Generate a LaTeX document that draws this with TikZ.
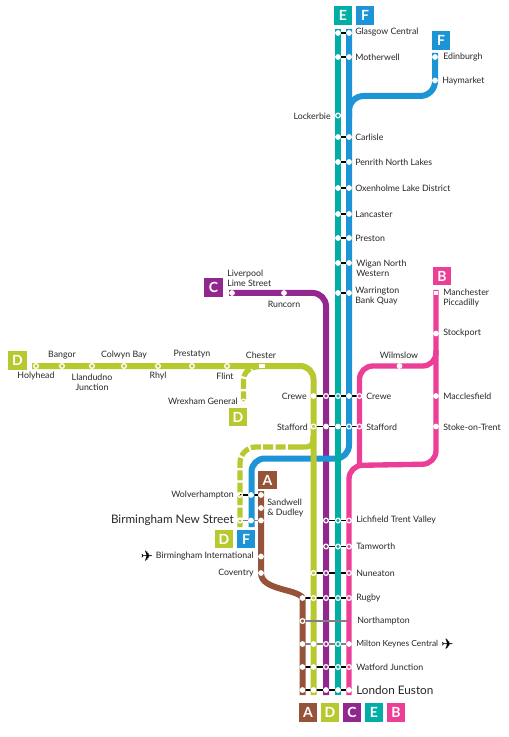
\documentclass[tikz,border=0pt]{standalone}
\usepackage{fontspec}
\setmainfont{Lato}
\newfontfamily\symfont{DejaVu Sans}
\usetikzlibrary{backgrounds}
\definecolor{cE}{HTML}{00AEA6}
\definecolor{cF}{HTML}{1C94D6}
\definecolor{cC}{HTML}{92278F}
\definecolor{cD}{HTML}{B7C92F}
\definecolor{cB}{HTML}{EC3D97}
\definecolor{cA}{HTML}{96533A}
\tikzset{
 x=.75pt,y=-.75pt,
 st/.style={circle,fill=white,inner sep=0,minimum size=4.3pt},
 rg/.style={circle,draw=white,line width=.95pt,fill=none,inner sep=0,minimum size=3.5pt},
 sq/.style={rectangle,fill=white,inner sep=0,minimum width=3.4pt,minimum height=3.2pt},
 route/.style={line width=4.5pt,line join=round},
 thin route/.style={line width=3.9pt,line join=round},
 link/.style={black,line width=1.2pt},
 grey link/.style={black!50,line width=1.2pt},
 badge/.style={rectangle,inner sep=0,minimum width=14pt,minimum height=14pt,text=white,font=\fontsize{10.5}{10.5}\selectfont\bfseries},
 lab/.style={inner sep=0,text=black!85,font=\fontsize{6.6}{7.4}\selectfont,align=left},
 labl/.style={lab,anchor=west},
 labr/.style={lab,anchor=east},
 labc/.style={lab,anchor=center,align=center},
 big/.style={inner sep=0,text=black!85,font=\fontsize{8.8}{10}\selectfont},
}
\begin{document}
\begin{tikzpicture}
\useasboundingbox (0,0) rectangle (509,737);
% end points of the routes
\coordinate (etop) at (338,29); \coordinate (ebot) at (338,695);
\coordinate (ftop) at (349,29);
\coordinate (fend) at (251.5,527);
\coordinate (ftee) at (349,118);
\coordinate (ed0) at (435,53);
\coordinate (bbot) at (349,695);
\coordinate (ctop) at (229,293);
\coordinate (cbot) at (326,695);
\coordinate (dtop) at (32,366);
\coordinate (dbot) at (313.5,695);
\coordinate (abot) at (302.5,695);
\coordinate (atop) at (261,491);
\coordinate (b0) at (436,290);
\coordinate (nh) at (347,621);
% E + F stations
\foreach \n/\y in {gla/33,mot/57,car/137,pen/162,oxe/188,lan/214,pre/238,wig/263,war/293}{
  \node[st] (e\n) at (338,\y) {};
  \node[st] (f\n) at (349,\y) {};
}
\node[rg] (lock) at (338,115.5) {};
% F branch
\node[st] (edi) at (435,57) {};
\node[st] (hay) at (435,80.5) {};
% C
\node[st] (liv) at (232,293) {};
\node[st] (run) at (284,293) {};
% D west
\foreach \n/\x in {hol/36,ban/62,lla/92,col/124,rhy/158,prs/192,fli/227}{
  \node[rg] (\n) at (\x,366) {};
}
\node[sq,minimum width=3.8pt] (che) at (262,366) {};
\node[rg] (wre) at (243.5,401.5) {};
% B north
\node[sq] (man) at (436,293) {};
\node[st] (sto) at (436,333.5) {};
\node[st] (wil) at (399.5,366) {};
\node[st] (mac) at (436,396) {};
\node[st] (sok) at (436,426.5) {};
% Crewe, Stafford
\node[st] (crD) at (313.5,396) {}; \node[rg] (crC) at (326,396) {}; \node[rg] (crE) at (338,396) {}; \node[st] (crF) at (349,396) {}; \node[rg] (crB) at (359.5,396) {};
\node[rg] (sfD) at (313.5,426.5) {}; \node[st] (sfC) at (326,426.5) {}; \node[st] (sfE) at (338,426.5) {}; \node[rg] (sfF) at (349,426.5) {}; \node[rg] (sfB) at (359.5,426.5) {};
% West Midlands
\node[rg] (wolD) at (240,495) {}; \node[st] (wolF) at (251,495) {}; \node[st] (wolA) at (261,495) {};
\node[st] (sand) at (261,508) {};
\node[rg] (bnsD) at (240,520.5) {}; \node[st] (bnsF) at (251,520.5) {}; \node[st] (bnsA) at (261,520.5) {};
\node[st] (bint) at (261,556.5) {};
\node[st] (cov) at (261,573) {};
% southern trunk
\foreach \n/\y in {lic/520.5,tam/546.5}{
  \node[rg] (\n C) at (326,\y) {}; \node[rg] (\n E) at (338,\y) {}; \node[rg] (\n B) at (349,\y) {};
}
\node[rg] (nunD) at (313.5,573) {}; \node[rg] (nunC) at (326,573) {}; \node[rg] (nunB) at (349,573) {};
\node[st] (rugA) at (302.5,598) {}; \node[rg] (rugD) at (313.5,598) {}; \node[rg] (rugC) at (326,598) {}; \node[rg] (rugE) at (338,598) {}; \node[rg] (rugB) at (349,598) {};
\node[rg] (norA) at (302.5,621) {};
\node[st] (milA) at (302.5,644) {}; \node[st] (milD) at (313.5,644) {}; \node[rg] (milC) at (326,644) {}; \node[rg] (milE) at (338,644) {}; \node[st] (milB) at (349,644) {};
\node[st] (watA) at (302.5,667) {}; \node[st] (watD) at (313.5,667) {}; \node[rg] (watC) at (326,667) {}; \node[rg] (watE) at (338,667) {}; \node[rg] (watB) at (349,667) {};
\node[st] (lonA) at (302.5,690) {}; \node[st] (lonD) at (313.5,690) {}; \node[st] (lonC) at (326,690) {}; \node[st] (lonE) at (338,690) {}; \node[st] (lonB) at (349,690) {};
% routes and links beneath the stations
\begin{scope}[on background layer]
\foreach \n in {gla,mot,car,pen,oxe,lan,pre,wig,war}{ \draw[link] (e\n.center) -- (f\n.center); }
\draw[link] (crD.center) -- (crB.center);
\draw[link] (sfD.center) -- (sfB.center);
\draw[link] (wolD.center) -- (wolA.center);
\draw[grey link] (bnsD.center) -- (bnsA.center);
\foreach \n in {lic,tam}{ \draw[link] (\n C.center) -- (\n B.center); }
\draw[link] (nunD.center) -- (nunB.center);
\draw[link] (rugA.center) -- (rugB.center);
\draw[grey link] (milA.center) -- (milB.center);
\draw[link] (watA.center) -- (watB.center);
\draw[link] (lonA.center) -- (lonB.center);
% brown
\draw[route,cA] (atop) -- (cov.center) .. controls (261,582) and (270,586) .. (285,590) .. controls (297,593) and (302.5,596) .. (rugA.center) -- (abot);
% purple
\draw[route,cC,rounded corners=10pt] (ctop) -- (326,293) -- (cbot);
% blue
\draw[route,cF,rounded corners=10pt] (ftop) -- (349,458.5) -- (251.5,458.5) -- (fend);
\draw[route,cF,rounded corners=11pt] (ftee) -- (349,96) -- (435,96) -- (ed0);
% teal
\draw[route,cE] (etop) -- (ebot);
% green
\draw[route,cD,rounded corners=10pt] (dtop) -- (313.5,366) -- (dbot);
\draw[thin route,cD,rounded corners=8pt,dash pattern=on 7.5pt off 1.8pt] (che.center) -- (243.5,369) -- (243.5,404);
\draw[thin route,cD,rounded corners=5pt] (313,436) -- (313,447) -- (298,447);
\draw[thin route,cD,rounded corners=12pt,dash pattern=on 7.5pt off 1.8pt] (298,447) -- (240,447) -- (240,527);
% pink
\draw[route,cB,line width=4pt,rounded corners=10pt] (b0) -- (436,464) -- (349,465.5) -- (bbot);
\draw[route,cB,line width=4pt,rounded corners=10pt] (436,350) -- (436,366) -- (359.5,366) -- (359.5,466);
\end{scope}
\draw[grey link] (norA) -- (nh);
% badges
\node[badge,fill=cE] (bE1) at (343,15.5) {E};
\node[badge,fill=cF] (bF1) at (365,15.5) {F};
\node[badge,fill=cF] (bF2) at (441,40.5) {F};
\node[badge,fill=cC] (bC1) at (213.5,287.5) {C};
\node[badge,fill=cD] (bD1) at (17.5,360.5) {D};
\node[badge,fill=cD] (bD2) at (238,417) {D};
\node[badge,fill=cB] (bB1) at (442,276) {B};
\node[badge,fill=cA] (bA1) at (267.5,480) {A};
\node[badge,fill=cD] (bD3) at (224,539) {D};
\node[badge,fill=cF] (bF3) at (246,539) {F};
\node[badge,fill=cA] (bA2) at (308,712.5) {A};
\node[badge,fill=cD] (bD4) at (330,712.5) {D};
\node[badge,fill=cC] (bC2) at (352,712.5) {C};
\node[badge,fill=cE] (bE2) at (374,712.5) {E};
\node[badge,fill=cB] (bB2) at (396,712.5) {B};
% labels
\node[labl] (t1) at (355,32.5) {Glasgow Central};
\node[labl] (t2) at (355,57) {Motherwell};
\node[labl] (t3) at (443,57) {Edinburgh};
\node[labl] (t4) at (442,81) {Haymarket};
\node[labr] (t5) at (331,116) {Lockerbie};
\node[labl] (t6) at (355,137.5) {Carlisle};
\node[labl] (t7) at (355,162) {Penrith North Lakes};
\node[labl] (t8) at (355,188) {Oxenholme Lake District};
\node[labl] (t9) at (355,214) {Lancaster};
\node[labl] (t10) at (355,238.5) {Preston};
\node[labl] (t11) at (356,268) {Wigan North\\Western};
\node[labl] (t12) at (355,296) {Warrington\\Bank Quay};
\node[labl] (t13) at (227,278) {Liverpool\\Lime Street};
\node[labc] (t14) at (284,304) {Runcorn};
\node[labc] (t15) at (62,355) {Bangor};
\node[labc] (t16) at (124,355) {Colwyn Bay};
\node[labc] (t17) at (192,354) {Prestatyn};
\node[labc] (t18) at (261,355) {Chester};
\node[labc] (t19) at (36,376.5) {Holyhead};
\node[labc] (t20) at (92,382) {Llandudno\\Junction};
\node[labc] (t21) at (158,376.5) {Rhyl};
\node[labc] (t22) at (225,376.5) {Flint};
\node[labr] (t23) at (238,401.5) {Wrexham General};
\node[labl] (t24) at (443,298) {Manchester\\Piccadilly};
\node[labl] (t25) at (443,333.5) {Stockport};
\node[labc] (t26) at (399,355) {Wilmslow};
\node[labr] (t27) at (307,396) {Crewe};
\node[labl] (t28) at (366,396) {Crewe};
\node[labr] (t29) at (308,427) {Stafford};
\node[labl] (t30) at (366,427) {Stafford};
\node[labl] (t31) at (443,396) {Macclesfield};
\node[labl] (t32) at (443,427) {Stoke-on-Trent};
\node[labr] (t33) at (234,495) {Wolverhampton};
\node[big,anchor=east] (t34) at (234,520.5) {Birmingham New Street};
\node[labl] (t35) at (267,508) {Sandwell\\\& Dudley};
\node[labr] (t36) at (254,556.5) {Birmingham International};
\node[labr] (t37) at (254,573) {Coventry};
\node[labl] (t38) at (356,520) {Lichfield Trent Valley};
\node[labl] (t39) at (356,546) {Tamworth};
\node[labl] (t40) at (356,573) {Nuneaton};
\node[labl] (t41) at (356,598) {Rugby};
\node[labl] (t42) at (357,621) {Northampton};
\node[labl,font=\fontsize{6.3}{7.4}\selectfont] (t43) at (356,644) {Milton Keynes Central};
\node[labl] (t44) at (356,667) {Watford Junction};
\node[big,anchor=west] (t45) at (356,690.5) {London Euston};
\node[inner sep=0,font=\symfont\fontsize{11}{11}\selectfont] (p1) at (147,556.5) {✈};
\node[inner sep=0,font=\symfont\fontsize{11}{11}\selectfont] (p2) at (447.5,644) {✈};
\end{tikzpicture}
\end{document}
